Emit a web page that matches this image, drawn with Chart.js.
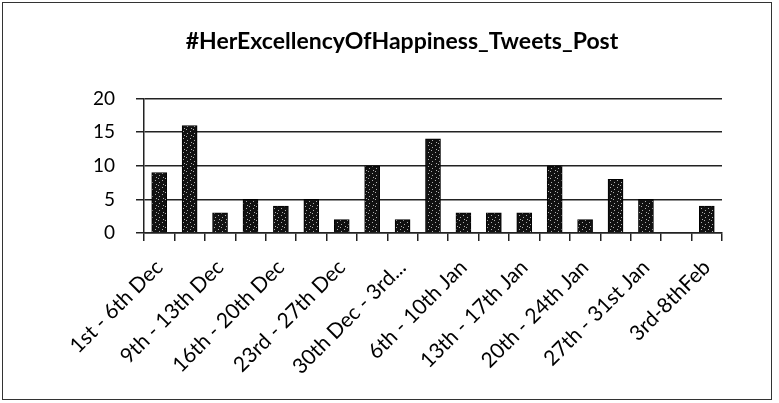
<body style="margin: 0; background: #fff">
  <div
    id="frame"
    style="position: absolute; left: 2px; top: 2px; width: 768px; height: 396px; border: 1px solid #333"
  >
    <canvas id="chart1"></canvas>
  </div>
</body>
<script src="https://cdn.jsdelivr.net/npm/chart.js@4"></script>
<script>
  const weeks = [
    '1st - 6th Dec', '7th - 8th Dec', '9th - 13th Dec', '14th - 15th Dec',
    '16th - 20th Dec', '21st - 22nd Dec', '23rd - 27th Dec', '28th - 29th Dec',
    '30th Dec - 3rd Jan', '4th - 5th Jan', '6th - 10th Jan', '11th - 12th Jan',
    '13th - 17th Jan', '18th - 19th Jan', '20th - 24th Jan', '25th - 26th Jan',
    '27th - 31st Jan', '1st - 2nd Feb', '3rd-8thFeb'
  ]
  const tweets = [9, 16, 3, 5, 4, 5, 2, 10, 2, 14, 3, 3, 3, 10, 2, 8, 5, 0, 4]
  const yTicks = [0, 5, 10, 15, 20]

  // speckled dark fill, like the scanned bars
  function speckle() {
    const c = document.createElement('canvas')
    c.width = 7
    c.height = 7
    const g = c.getContext('2d')
    g.fillStyle = '#111'
    g.fillRect(0, 0, 7, 7)
    g.fillStyle = '#b0b0b0'
    ;[[1, 0], [5, 2], [2, 4], [6, 6]].forEach(p => g.fillRect(p[0], p[1], 1, 1))
    return g.createPattern(c, 'repeat')
  }

  const font = 'Lato, "Liberation Sans", sans-serif'

  new Chart(document.getElementById('chart1'), {
    type: 'bar',
    data: {
      labels: weeks,
      datasets: [
        {
          label: 'Tweets',
          data: tweets,
          backgroundColor: speckle(),
          borderColor: '#000',
          borderWidth: 1,
          barThickness: 15
        }
      ]
    },
    options: {
      responsive: true,
      maintainAspectRatio: false,
      animation: false,
      layout: { padding: { left: 79, right: 49, top: 0, bottom: 0 } },
      plugins: {
        legend: { display: false },
        tooltip: { enabled: false },
        title: {
          display: true,
          text: '#HerExcellencyOfHappiness_Tweets_Post',
          color: '#000',
          font: { family: font, size: 23, weight: 'bold', lineHeight: 1.2 },
          padding: { top: 25, bottom: 43 }
        }
      },
      scales: {
        x: {
          afterFit: s => { s.height = 166 },
          border: { display: true, color: '#222', width: 1.5 },
          grid: { drawOnChartArea: false, tickLength: 8, color: '#222', lineWidth: 1.5 },
          ticks: {
            autoSkip: false,
            minRotation: 45,
            maxRotation: 45,
            padding: 14,
            color: '#000',
            font: { family: font, size: 21 },
            callback: (v, i) => {
              if (i % 2) return ''
              const t = weeks[i]
              return t.length > 16 ? t.slice(0, 14) + '...' : t
            }
          }
        },
        y: {
          min: 0,
          max: 20,
          afterFit: s => { s.width = 62 },
          afterBuildTicks: s => { s.ticks = yTicks.map(v => ({ value: v })) },
          border: { display: true, color: '#222', width: 1.5 },
          grid: { color: '#222', lineWidth: 1.5, tickLength: 8 },
          ticks: {
            padding: 21,
            color: '#000',
            font: { family: font, size: 19 }
          }
        }
      }
    }
  })
</script>
